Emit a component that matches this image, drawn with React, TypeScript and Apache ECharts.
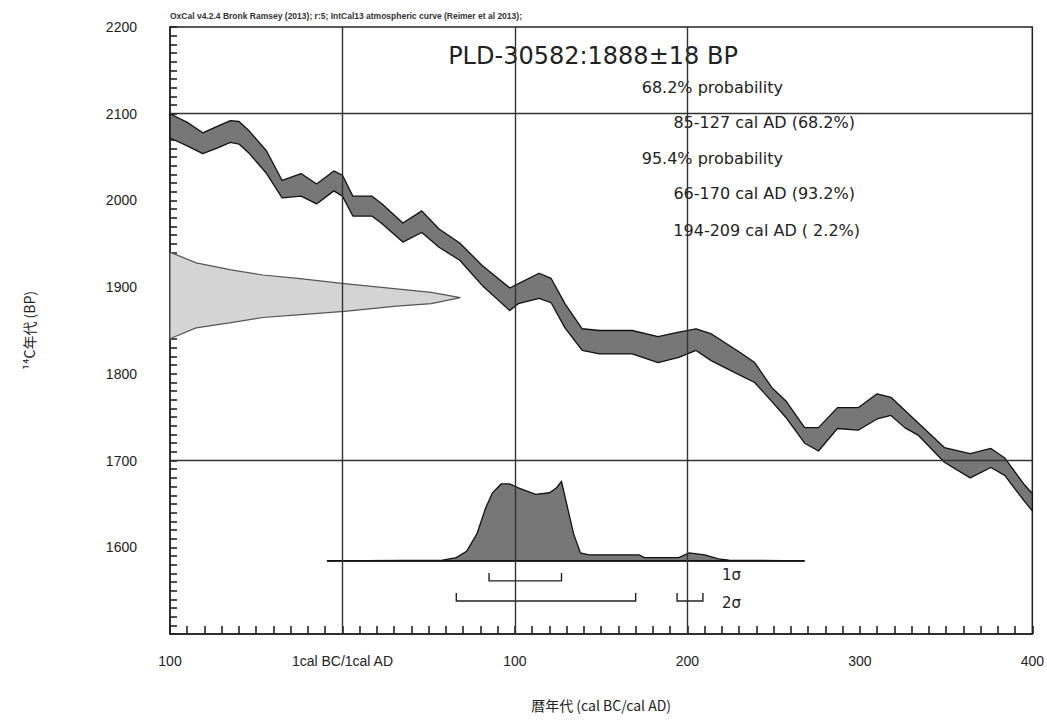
import React, { useEffect, useRef } from "react";
import * as echarts from "echarts";

// ---- Data ----
const headerText =
  "OxCal v4.2.4 Bronk Ramsey (2013); r:5; IntCal13 atmospheric curve (Reimer et al 2013);";
const sampleTitle = "PLD-30582:1888±18 BP";
const resultLines = [
  "68.2% probability",
  "85-127 cal AD (68.2%)",
  "95.4% probability",
  "66-170 cal AD (93.2%)",
  "194-209 cal AD ( 2.2%)",
];

// Calibration curve (IntCal13 band), cal year (BC negative) vs BP
const calYears = [-100, -90, -81, -72, -65, -60, -54, -44, -35, -24, -15, -5, 0, 6, 17, 23, 35, 46, 56, 68, 81, 97, 102, 114, 121, 129, 139, 149, 168, 183, 195, 205, 214, 231, 239, 249, 257, 268, 276, 287, 299, 310, 318, 326, 334, 349, 364, 376, 384, 395, 400];
const calUpper = [2100, 2090, 2078, 2086, 2092, 2091, 2080, 2057, 2023, 2031, 2019, 2034, 2029, 2005, 2005, 1996, 1974, 1988, 1967, 1951, 1925, 1899, 1904, 1916, 1910, 1881, 1852, 1850, 1850, 1843, 1848, 1852, 1846, 1824, 1813, 1784, 1769, 1738, 1738, 1761, 1761, 1777, 1773, 1758, 1743, 1715, 1708, 1714, 1703, 1673, 1662];
const calLower = [2072, 2063, 2054, 2061, 2067, 2065, 2054, 2031, 2003, 2005, 1996, 2011, 2005, 1982, 1982, 1973, 1952, 1963, 1946, 1931, 1902, 1873, 1881, 1887, 1882, 1853, 1827, 1823, 1823, 1813, 1819, 1827, 1815, 1798, 1790, 1768, 1750, 1720, 1711, 1737, 1735, 1748, 1752, 1738, 1729, 1698, 1680, 1692, 1683, 1654, 1642];

// Radiocarbon measurement distribution (left side)
const gaussBP = [1940, 1939, 1928, 1920, 1914, 1910, 1904, 1898, 1894, 1888, 1881, 1878, 1872, 1868, 1865, 1859, 1853, 1842, 1840];
const gaussDensity = [0, 0.01, 0.09, 0.21, 0.32, 0.44, 0.6, 0.78, 0.9, 1.0, 0.9, 0.78, 0.6, 0.44, 0.32, 0.21, 0.09, 0.01, 0];

// Calibrated posterior distribution (bottom)
const postYears = [-9, 58, 66, 72, 78, 83, 87, 92, 97, 102, 112, 120, 124, 127, 130, 134, 138, 143, 172, 175, 195, 201, 210, 218, 224, 268];
const postProb = [0, 0.01, 0.04, 0.12, 0.34, 0.66, 0.85, 0.96, 0.96, 0.91, 0.83, 0.85, 0.91, 0.99, 0.71, 0.34, 0.1, 0.075, 0.075, 0.04, 0.04, 0.1, 0.075, 0.025, 0.01, 0];

// Ranges (start, end)
const sigma1Ranges = [[85, 127]];
const sigma2Ranges = [[66, 170], [194, 209]];

const xTickMin = -100;
const xTickMax = 400;
const yTickMin = 1500;
const yTickMax = 2200;
const gridLinesX = [0, 100, 200];
const gridLinesY = [2100, 1700];

const NUM_FONT = "'Liberation Sans', Arial, sans-serif";
const CJK_FONT = "'Noto Sans CJK JP', sans-serif";
const TXT_FONT = "'DejaVu Sans', sans-serif";

function buildOption() {
  const bandData = calYears.map((y, i) => [y, calUpper[i], calLower[i]]);
  const gaussData = gaussDensity.map((d, i) => [d, gaussBP[i]]);
  const postData = postYears.map((y, i) => [y, postProb[i]]);
  const rangeData = [
    ...sigma1Ranges.map((r) => [r[0], r[1], -0.25]),
    ...sigma2Ranges.map((r) => [r[0], r[1], -0.5]),
  ];

  const resultRight = [783, 855, 783, 855, 860];
  const resultY = [87, 122, 158, 193, 230];

  return {
    animation: false,
    backgroundColor: "#ffffff",
    grid: {
      left: 170,
      right: 10,
      top: 27,
      bottom: 86,
      show: true,
      borderColor: "#222",
      borderWidth: 1.5,
      backgroundColor: "transparent",
    },
    xAxis: [
      {
        type: "value",
        min: xTickMin,
        max: xTickMax,
        interval: 100,
        name: "暦年代 (cal BC/cal AD)",
        nameLocation: "middle",
        nameGap: 64,
        nameTextStyle: { fontFamily: CJK_FONT, fontSize: 14, color: "#222" },
        axisLine: { show: true, onZero: false, lineStyle: { color: "#222", width: 1.5 } },
        axisTick: { show: true, inside: true, length: 8, lineStyle: { color: "#222", width: 1.6 } },
        minorTick: { show: true, splitNumber: 10, length: 8, lineStyle: { color: "#222", width: 1.6 } },
        splitLine: { show: false },
        axisLabel: {
          margin: 20,
          fontFamily: NUM_FONT,
          fontSize: 14,
          color: "#222",
          formatter: (v: number) => (v === 0 ? "1cal BC/1cal AD" : String(Math.abs(v))),
        },
      },
      {
        type: "value",
        min: 0,
        max: 2.97,
        show: false,
        axisLine: { onZero: false },
        splitLine: { show: false },
      },
    ],
    yAxis: [
      {
        type: "value",
        position: "left",
        min: yTickMin,
        max: yTickMax,
        interval: 100,
        name: "¹⁴C年代 (BP)",
        nameLocation: "middle",
        nameGap: 134,
        nameRotate: 90,
        nameTextStyle: { fontFamily: CJK_FONT, fontSize: 14, color: "#222" },
        axisLine: { show: true, onZero: false, lineStyle: { color: "#222", width: 1.5 } },
        axisTick: { show: true, inside: true, length: 7, lineStyle: { color: "#222", width: 1.6 } },
        minorTick: { show: true, splitNumber: 10, length: 7, lineStyle: { color: "#222", width: 1.6 } },
        splitLine: { show: false },
        axisLabel: {
          margin: 33,
          fontFamily: NUM_FONT,
          fontSize: 14,
          color: "#222",
          formatter: (v: number) => (v === yTickMin ? "" : String(v)),
        },
      },
      {
        type: "value",
        position: "right",
        min: -0.9125,
        max: 6.6625,
        show: false,
        axisLine: { onZero: false },
        splitLine: { show: false },
      },
    ],
    series: [
      {
        type: "custom",
        name: "measurement",
        xAxisIndex: 1,
        yAxisIndex: 0,
        z: 2,
        data: gaussData,
        encode: { x: 0, y: 1 },
        renderItem: (params: any, api: any) => {
          if (params.dataIndex !== 0) return null;
          const pts = gaussData.map((d) => api.coord(d));
          return {
            type: "polygon",
            shape: { points: pts },
            style: { fill: "#d4d4d4", stroke: "#555", lineWidth: 1.2 },
          };
        },
      },
      {
        type: "custom",
        name: "IntCal13",
        xAxisIndex: 0,
        yAxisIndex: 0,
        z: 2,
        data: bandData,
        encode: { x: 0, y: [1, 2] },
        renderItem: (params: any, api: any) => {
          if (params.dataIndex !== 0) return null;
          const pts: number[][] = [];
          for (let i = 0; i < calYears.length; i++) pts.push(api.coord([calYears[i], calUpper[i]]));
          for (let i = calYears.length - 1; i >= 0; i--) pts.push(api.coord([calYears[i], calLower[i]]));
          return {
            type: "polygon",
            shape: { points: pts },
            style: { fill: "#777777", stroke: "#111", lineWidth: 1.3, lineJoin: "round" },
          };
        },
      },
      {
        type: "line",
        name: "gridlines",
        xAxisIndex: 0,
        yAxisIndex: 0,
        z: 3,
        data: [],
        markLine: {
          silent: true,
          symbol: ["none", "none"],
          label: { show: false },
          lineStyle: { color: "#333", width: 1.4, type: "solid" },
          data: [
            ...gridLinesX.map((x) => ({ xAxis: x })),
            ...gridLinesY.map((y) => ({ yAxis: y })),
          ],
        },
      },
      {
        type: "custom",
        name: "posterior",
        xAxisIndex: 0,
        yAxisIndex: 1,
        z: 4,
        data: postData,
        encode: { x: 0, y: 1 },
        renderItem: (params: any, api: any) => {
          if (params.dataIndex !== 0) return null;
          const pts = postData.map((d) => api.coord(d));
          const b0 = api.coord([postYears[0], 0]);
          const b1 = api.coord([postYears[postYears.length - 1], 0]);
          return {
            type: "group",
            children: [
              {
                type: "polygon",
                shape: { points: pts },
                style: { fill: "#777777", stroke: "#111", lineWidth: 1.3 },
              },
              {
                type: "line",
                shape: { x1: b0[0], y1: b0[1], x2: b1[0], y2: b1[1] },
                style: { stroke: "#111", lineWidth: 1.6 },
              },
            ],
          };
        },
      },
      {
        type: "custom",
        name: "ranges",
        xAxisIndex: 0,
        yAxisIndex: 1,
        z: 4,
        data: rangeData,
        encode: { x: [0, 1], y: 2 },
        renderItem: (params: any, api: any) => {
          const s = api.value(0);
          const e = api.value(1);
          const lv = api.value(2);
          const a = api.coord([s, lv + 0.1]);
          const b = api.coord([s, lv]);
          const c = api.coord([e, lv]);
          const d = api.coord([e, lv + 0.1]);
          return {
            type: "polyline",
            shape: { points: [a, b, c, d] },
            style: { stroke: "#222", lineWidth: 1.4, fill: "none" },
          };
        },
      },
    ],
    graphic: [
      {
        type: "text",
        left: 170,
        top: 11,
        style: {
          text: headerText,
          fontFamily: NUM_FONT,
          fontSize: 8.5,
          fontWeight: "bold",
          fill: "#333",
        },
      },
      {
        type: "text",
        x: 593,
        y: 56,
        style: {
          text: sampleTitle,
          fontFamily: TXT_FONT,
          fontSize: 24,
          fill: "#222",
          textAlign: "center",
          textVerticalAlign: "middle",
        },
      },
      ...resultLines.map((t, i) => ({
        type: "text",
        x: resultRight[i],
        y: resultY[i],
        style: {
          text: t,
          fontFamily: TXT_FONT,
          fontSize: 16,
          fill: "#222",
          textAlign: "right",
          textVerticalAlign: "middle",
        },
      })),
      {
        type: "text",
        x: 722,
        y: 575,
        style: { text: "1σ", fontFamily: TXT_FONT, fontSize: 15, fill: "#222", textVerticalAlign: "middle" },
      },
      {
        type: "text",
        x: 722,
        y: 603,
        style: { text: "2σ", fontFamily: TXT_FONT, fontSize: 15, fill: "#222", textVerticalAlign: "middle" },
      },
    ],
  };
}

export default function App() {
  const ref = useRef<HTMLDivElement>(null);
  useEffect(() => {
    if (!ref.current) return;
    const chart = echarts.init(ref.current, null, { renderer: "svg" });
    chart.setOption(buildOption() as any);
    return () => chart.dispose();
  }, []);
  return (
    <div
      ref={ref}
      style={{ position: "absolute", left: 0, top: 0, width: 1047, height: 720, background: "#fff" }}
    />
  );
}
